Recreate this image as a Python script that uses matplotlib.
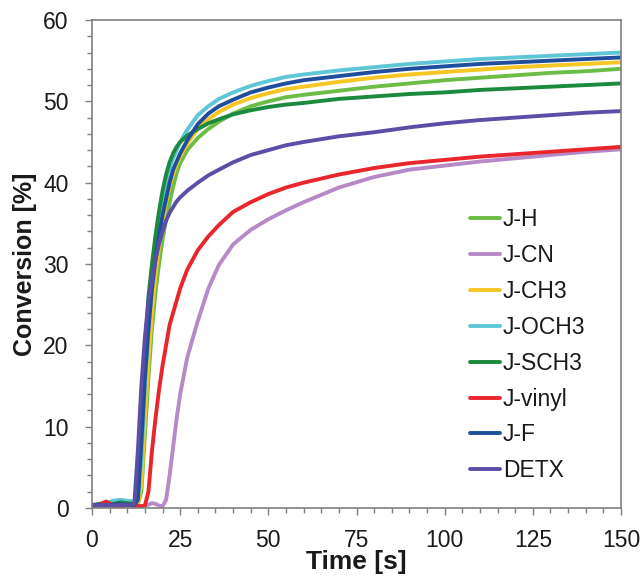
import numpy as np
import matplotlib
matplotlib.use("Agg")
import matplotlib.pyplot as plt
from matplotlib.ticker import MultipleLocator

# --- data ---
time_s = [0, 2, 4, 6, 8, 10, 12, 13, 14, 15, 16, 17, 18, 19, 20, 21, 22, 23, 24, 25,
          27, 30, 33, 36, 40, 45, 50, 55, 60, 70, 80, 90, 100, 110, 120, 130, 140, 150]

j_h = [0.3, 0.4, 0.5, 0.3, 0.5, 0.4, 0.4, 0.5, 2, 9, 16, 22, 26.5, 30, 33, 35.5, 37.5, 39.5, 41.2, 42.4,
       44, 45.5, 46.6, 47.5, 48.5, 49.4, 50, 50.5, 50.8, 51.3, 51.8, 52.2, 52.6, 52.9, 53.2, 53.5, 53.7, 54.0]
j_cn = [0.2, 0.3, 0.2, 0.3, 0.2, 0.3, 0.2, 0.3, 0.2, 0.3, 0.4, 0.6, 0.5, 0.3, 0.2, 1, 4, 7.5, 11, 14,
        18.5, 23, 27.0, 29.9, 32.4, 34.2, 35.5, 36.6, 37.6, 39.4, 40.7, 41.6, 42.1, 42.6, 43.0, 43.4, 43.8, 44.1]
j_ch3 = [0.3, 0.5, 0.4, 0.5, 0.6, 0.5, 0.4, 0.4, 3, 11, 18, 24, 28.5, 32, 35, 37.5, 39.5, 41, 42.2, 43.2,
         44.8, 46.6, 47.8, 48.7, 49.6, 50.4, 51, 51.5, 51.8, 52.4, 52.9, 53.3, 53.6, 53.9, 54.2, 54.4, 54.6, 54.8]
j_och3 = [0.4, 0.5, 0.6, 0.9, 1.0, 0.9, 0.8, 1.0, 6, 15, 22, 27, 31, 34.5, 37.5, 40, 41.8, 43, 44, 45,
          46.5, 48.3, 49.4, 50.3, 51.1, 51.9, 52.5, 53, 53.3, 53.8, 54.2, 54.6, 54.9, 55.2, 55.4, 55.6, 55.8, 56.0]
j_sch3 = [0.3, 0.5, 0.6, 0.5, 0.7, 0.6, 0.5, 1.5, 10, 19, 26, 30, 33.5, 36.5, 39, 41, 42.5, 43.6, 44.4, 45,
          45.8, 46.6, 47.3, 47.8, 48.4, 48.9, 49.3, 49.6, 49.8, 50.3, 50.6, 50.9, 51.1, 51.4, 51.6, 51.8, 52.0, 52.2]
j_vinyl = [0.2, 0.4, 0.8, 0.3, 0.2, 0.4, 0.3, 0.3, 0.2, 0.3, 2, 7, 11, 14.5, 17.5, 20, 22.5, 24, 25.5, 27,
           29.3, 31.7, 33.4, 34.8, 36.4, 37.6, 38.6, 39.4, 40.0, 41.0, 41.8, 42.4, 42.8, 43.2, 43.5, 43.8, 44.1, 44.4]
j_f = [0.3, 0.4, 0.3, 0.4, 0.5, 0.4, 0.4, 1, 8, 16, 22, 27, 30.5, 33.5, 36, 38, 40, 41.6, 42.6, 43.6,
       45.2, 47.2, 48.5, 49.4, 50.2, 51.1, 51.7, 52.2, 52.6, 53.1, 53.6, 54, 54.3, 54.6, 54.8, 55, 55.2, 55.4]
detx = [0.4, 0.3, 0.4, 0.3, 0.4, 0.3, 0.5, 7, 15, 21, 25.5, 28, 30.5, 32.5, 34, 35.3, 36.3, 37, 37.7, 38.2,
        39, 40, 40.9, 41.6, 42.5, 43.4, 44.0, 44.6, 45.0, 45.7, 46.2, 46.8, 47.3, 47.7, 48.0, 48.3, 48.6, 48.8]

series = [
    ("J-H",    j_h,     "#6cbd45"),
    ("J-CN",   j_cn,    "#b58ac6"),
    ("J-CH3",  j_ch3,   "#f6c624"),
    ("J-OCH3", j_och3,  "#5ec6d6"),
    ("J-SCH3", j_sch3,  "#1b8a3e"),
    ("J-vinyl", j_vinyl, "#e8262b"),
    ("J-F",    j_f,     "#1f4e9c"),
    ("DETX",   detx,    "#5a4ea6"),
]

plt.rcParams["font.family"] = ["Liberation Sans", "DejaVu Sans"]
AXIS_GREY = "#808080"
TEXT = "#1a1a1a"

fig = plt.figure(figsize=(6.42, 5.79), dpi=100)
ax = fig.add_axes([92 / 642, 71 / 579, 529 / 642, 488 / 579])

for label, vals, color in series:
    ax.plot(time_s, vals, color=color, linewidth=2.8, label=label,
            solid_capstyle="round", solid_joinstyle="round")

ax.set_xlim(0, 150)
ax.set_ylim(0, 60)
ax.xaxis.set_major_locator(MultipleLocator(25))
ax.xaxis.set_minor_locator(MultipleLocator(5))
ax.yaxis.set_major_locator(MultipleLocator(10))
ax.yaxis.set_minor_locator(MultipleLocator(2))

for sp in ax.spines.values():
    sp.set_edgecolor(AXIS_GREY)
    sp.set_linewidth(1.2)
ax.tick_params(which="both", direction="out", color=AXIS_GREY, width=1.0,
               top=False, right=False)
ax.tick_params(which="major", length=5, labelsize=16.5, labelcolor=TEXT)
ax.tick_params(axis="x", which="major", pad=10)
ax.tick_params(axis="y", which="major", pad=12)
ax.tick_params(which="minor", length=3.5)

ax.set_xlabel("Time [s]", fontsize=19, fontweight="bold", color=TEXT, labelpad=-1)
ax.set_ylabel("Conversion [%]", fontsize=18, fontweight="bold", color=TEXT, labelpad=4)

ax.legend(loc="upper left", bbox_to_anchor=(0.7146, 0.614), frameon=False,
          fontsize=16.5, handlelength=1.3, handletextpad=0.13, labelspacing=0.56,
          borderpad=0, borderaxespad=0, labelcolor=TEXT)

plt.savefig("out.png", dpi=100, facecolor="white")
plt.close()
